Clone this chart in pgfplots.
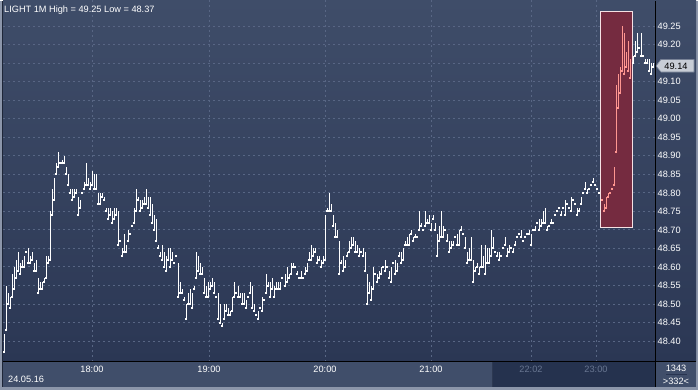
\documentclass[border=0pt]{standalone}
\usepackage{pgfplots}
\pgfplotsset{compat=1.18}
\usepackage{pgfplotstable}
\usepackage{fontspec}
\setmainfont{Liberation Sans}

\definecolor{bgtop}{RGB}{63,77,105}
\definecolor{bgbot}{RGB}{43,55,84}
\definecolor{band}{RGB}{64,78,106}
\definecolor{banddark}{RGB}{37,50,78}
\definecolor{bandsep}{RGB}{45,57,82}
\definecolor{gridc}{RGB}{88,102,132}
\definecolor{framec}{RGB}{140,150,170}
\definecolor{framedark}{RGB}{30,38,56}
\definecolor{dimlab}{RGB}{104,118,145}
\definecolor{boxred}{RGB}{117,43,64}
\definecolor{boxline}{RGB}{245,225,228}
\definecolor{barred}{RGB}{255,150,145}
\definecolor{barwhite}{RGB}{255,255,255}
\definecolor{pricebox}{RGB}{200,205,214}
\definecolor{priceline}{RGB}{120,130,150}
\definecolor{sepline}{RGB}{40,52,80}

\pgfplotstableread{
x hi lo
4 48.42 48.37
6 48.55 48.43
8 48.53 48.50
10 48.52 48.49
12 48.58 48.52
14 48.60 48.54
16 48.62 48.57
18 48.64 48.59
20 48.61 48.58
22 48.62 48.60
24 48.63 48.60
26 48.64 48.64
28 48.65 48.61
30 48.63 48.61
32 48.64 48.62
34 48.61 48.59
36 48.62 48.59
38 48.57 48.53
40 48.56 48.54
42 48.56 48.54
44 48.57 48.56
46 48.63 48.57
48 48.63 48.61
50 48.75 48.62
52 48.81 48.74
54 48.84 48.78
56 48.88 48.85
58 48.91 48.87
60 48.88 48.88
62 48.89 48.88
64 48.90 48.88
66 48.87 48.85
68 48.85 48.82
70 48.81 48.80
72 48.81 48.78
74 48.81 48.79
76 48.81 48.80
78 48.79 48.74
80 48.78 48.76
82 48.80 48.80
84 48.83 48.81
86 48.88 48.82
88 48.84 48.82
90 48.83 48.81
92 48.86 48.82
94 48.85 48.81
96 48.85 48.81
98 48.80 48.77
100 48.80 48.77
102 48.80 48.79
104 48.79 48.78
106 48.76 48.75
108 48.76 48.73
110 48.76 48.74
112 48.75 48.72
114 48.76 48.73
116 48.76 48.74
118 48.75 48.66
120 48.67 48.67
122 48.65 48.63
124 48.69 48.64
126 48.66 48.64
128 48.70 48.67
130 48.69 48.69
132 48.71 48.71
134 48.76 48.72
136 48.81 48.75
138 48.79 48.78
140 48.78 48.75
142 48.78 48.76
144 48.79 48.77
146 48.81 48.77
148 48.79 48.76
150 48.79 48.74
152 48.77 48.72
154 48.74 48.70
156 48.73 48.67
158 48.66 48.65
160 48.64 48.63
162 48.66 48.62
164 48.64 48.60
166 48.63 48.59
168 48.65 48.62
170 48.65 48.60
172 48.64 48.62
174 48.61 48.61
176 48.63 48.63
178 48.61 48.52
180 48.56 48.53
182 48.54 48.53
184 48.52 48.51
186 48.50 48.46
188 48.53 48.50
190 48.54 48.50
192 48.53 48.49
194 48.55 48.54
196 48.64 48.57
198 48.63 48.59
200 48.61 48.58
202 48.60 48.58
204 48.57 48.53
206 48.55 48.52
208 48.56 48.52
210 48.56 48.54
212 48.57 48.55
214 48.56 48.53
216 48.52 48.52
218 48.53 48.46
220 48.50 48.45
222 48.45 48.44
224 48.50 48.46
226 48.50 48.48
228 48.49 48.47
230 48.48 48.47
232 48.52 48.48
234 48.56 48.52
236 48.53 48.53
238 48.55 48.52
240 48.53 48.52
242 48.53 48.50
244 48.53 48.50
246 48.51 48.49
248 48.52 48.52
250 48.56 48.53
252 48.55 48.49
254 48.50 48.48
256 48.47 48.47
258 48.48 48.46
260 48.49 48.49
262 48.52 48.48
264 48.51 48.51
266 48.58 48.53
268 48.56 48.55
270 48.56 48.52
272 48.57 48.54
274 48.55 48.52
276 48.56 48.54
278 48.56 48.54
280 48.56 48.54
282 48.57 48.57
285 48.58 48.55
287 48.60 48.56
289 48.58 48.57
291 48.61 48.58
293 48.61 48.60
295 48.60 48.60
297 48.59 48.58
299 48.57 48.57
301 48.59 48.57
303 48.57 48.57
305 48.60 48.58
307 48.61 48.59
309 48.64 48.62
311 48.66 48.62
313 48.65 48.63
315 48.65 48.64
317 48.63 48.61
319 48.63 48.62
321 48.62 48.60
323 48.63 48.61
325 48.74 48.62
327 48.76 48.75
329 48.80 48.75
331 48.77 48.75
333 48.74 48.71
335 48.72 48.68
337 48.70 48.68
339 48.67 48.58
341 48.62 48.61
343 48.63 48.59
345 48.62 48.60
347 48.64 48.63
349 48.67 48.64
351 48.68 48.65
353 48.68 48.66
355 48.67 48.64
357 48.66 48.64
359 48.65 48.63
361 48.64 48.64
363 48.65 48.63
365 48.64 48.59
367 48.58 48.50
369 48.56 48.53
371 48.55 48.51
373 48.60 48.54
375 48.58 48.58
377 48.58 48.56
379 48.59 48.57
381 48.60 48.58
383 48.60 48.60
385 48.62 48.59
387 48.60 48.60
389 48.59 48.57
391 48.60 48.56
393 48.61 48.61
395 48.62 48.58
397 48.61 48.59
399 48.64 48.63
401 48.64 48.61
403 48.65 48.62
405 48.67 48.66
407 48.68 48.66
409 48.69 48.66
411 48.70 48.69
413 48.68 48.67
415 48.69 48.68
417 48.68 48.68
419 48.75 48.70
421 48.72 48.71
423 48.70 48.70
425 48.75 48.71
427 48.73 48.72
429 48.74 48.72
431 48.72 48.70
433 48.74 48.73
435 48.72 48.70
437 48.69 48.63
439 48.71 48.67
441 48.75 48.68
443 48.71 48.68
445 48.70 48.70
447 48.69 48.67
449 48.67 48.64
451 48.67 48.65
453 48.67 48.66
455 48.68 48.68
457 48.69 48.66
459 48.70 48.66
461 48.71 48.70
463 48.69 48.69
465 48.68 48.65
467 48.64 48.61
469 48.65 48.62
471 48.68 48.62
473 48.62 48.56
475 48.60 48.59
477 48.61 48.60
479 48.60 48.58
481 48.66 48.60
483 48.63 48.60
485 48.66 48.58
487 48.65 48.61
489 48.65 48.61
491 48.70 48.63
493 48.68 48.65
495 48.64 48.64
497 48.64 48.63
499 48.64 48.62
501 48.63 48.63
503 48.65 48.65
505 48.68 48.66
507 48.65 48.63
509 48.66 48.64
511 48.65 48.65
513 48.65 48.64
515 48.67 48.66
517 48.68 48.68
519 48.69 48.69
521 48.70 48.68
523 48.67 48.67
525 48.68 48.68
527 48.69 48.69
529 48.70 48.69
531 48.69 48.66
533 48.70 48.70
535 48.71 48.70
537 48.72 48.72
539 48.73 48.70
541 48.73 48.71
543 48.75 48.72
545 48.76 48.72
547 48.71 48.70
549 48.71 48.71
551 48.73 48.72
553 48.72 48.72
555 48.74 48.74
557 48.75 48.75
559 48.76 48.76
561 48.75 48.74
563 48.76 48.76
565 48.78 48.74
567 48.77 48.77
569 48.76 48.76
571 48.79 48.75
573 48.78 48.78
575 48.77 48.77
577 48.76 48.74
579 48.76 48.75
581 48.79 48.77
583 48.80 48.80
585 48.83 48.81
587 48.81 48.80
589 48.81 48.81
591 48.82 48.82
593 48.84 48.83
595 48.82 48.82
597 48.81 48.81
599 48.80 48.80
633 49.17 49.15
635 49.21 49.17
637 49.23 49.18
639 49.19 49.19
641 49.23 49.17
643 49.17 49.17
645 49.16 49.15
647 49.16 49.15
649 49.16 49.13
651 49.15 49.12
653 49.15 49.14
}\whitebars

\pgfplotstableread{
x hi lo
602 48.78 48.78
604 48.77 48.75
606 48.79 48.76
608 48.80 48.79
610 48.80 48.80
612 48.81 48.81
614 48.87 48.82
616 49.09 48.91
618 49.12 49.03
620 49.14 49.07
622 49.25 49.13
624 49.23 49.12
626 49.18 49.14
628 49.21 49.13
630 49.16 49.11
}\redbars

\begin{document}
\begin{tikzpicture}[x=1pt,y=1pt]
\fill[framec] (0,0) rectangle (698,389);
\fill[framedark] (2,3) rectangle (3,389);
\shade[top color=bgtop,bottom color=bgbot] (3,28) rectangle (696,389);
\fill[band] (3,3) rectangle (696,28);
\fill[banddark] (493,3) rectangle (655,28);
\draw[bandsep, line width=1pt] (492.5,3)--(492.5,28);
\begin{axis}[
  at={(3pt,28pt)}, anchor=south west,
  width=652pt, height=361pt, scale only axis,
  xmin=3, xmax=655, ymin=48.345, ymax=49.319,
  axis line style={draw=none},
  major tick length=0pt,
  grid=major,
  major grid style={gridc, line width=1pt, dash pattern=on 2pt off 3pt},
  xtick={92,209,325,431,531,596},
  xticklabels={18:00,19:00,20:00,21:00,\textcolor{dimlab}{22:02},\textcolor{dimlab}{23:00}},
  ytick={48.40,48.45,48.50,48.55,48.60,48.65,48.70,48.75,48.80,48.85,48.90,48.95,49.00,49.05,49.10,49.15,49.20,49.25},
  yticklabel pos=right,
  /pgf/number format/assume math mode=true,
  /pgf/number format/fixed,
  /pgf/number format/fixed zerofill,
  /pgf/number format/precision=2,
  yticklabel style={anchor=west, xshift=2.5pt, inner sep=0pt, font=\fontsize{9.2}{10}\selectfont, text=white},
  xticklabel style={anchor=base, yshift=-11.3pt, inner sep=0pt, font=\fontsize{9.2}{10}\selectfont, text=white},
]
\fill[boxred, draw=boxline, line width=1pt] (axis cs:600,48.707) rectangle (axis cs:632,49.29);
\addplot[barwhite, only marks, mark=square*, mark size=0.5pt, mark options={draw=barwhite, fill=barwhite, line width=0pt},
  error bars/.cd, y dir=plus, y explicit, error mark=none,
  error bar style={line width=1pt, barwhite}]
  table[x=x, y=lo, y error expr=\thisrow{hi}-\thisrow{lo}] {\whitebars};
\addplot[barred, only marks, mark=square*, mark size=0.5pt, mark options={draw=barred, fill=barred, line width=0pt},
  error bars/.cd, y dir=plus, y explicit, error mark=none,
  error bar style={line width=1pt, barred}]
  table[x=x, y=lo, y error expr=\thisrow{hi}-\thisrow{lo}] {\redbars};
\end{axis}
\draw[black, line width=1pt] (655.5,3)--(655.5,389);
\draw[black, line width=1pt] (3,28)--(696,28);
\filldraw[fill=pricebox, draw=priceline, line width=0.6pt] (656,323.5) -- (661,330) -- (694,330) -- (694,317.5) -- (661,317.5) -- cycle;
\node[anchor=base, inner sep=0pt, text=black, font=\fontsize{9.2}{10}\selectfont] at (676,319.7) {49.14};
\node[anchor=base west, inner sep=0pt, text=white, font=\fontsize{9.2}{10}\selectfont] at (4,377) {LIGHT 1M High = 49.25 Low = 48.37};
\node[anchor=base west, inner sep=0pt, text=white, font=\fontsize{9.2}{10}\selectfont] at (8,7) {24.05.16};
\node[anchor=base, inner sep=0pt, text=white, font=\fontsize{9.2}{10}\selectfont] at (676,18) {1343};
\draw[sepline, line width=1pt] (666,15)--(687,15);
\node[anchor=base, inner sep=0pt, text=white, font=\fontsize{9.2}{10}\selectfont] at (676,5) {>332<};
\end{tikzpicture}
\end{document}
